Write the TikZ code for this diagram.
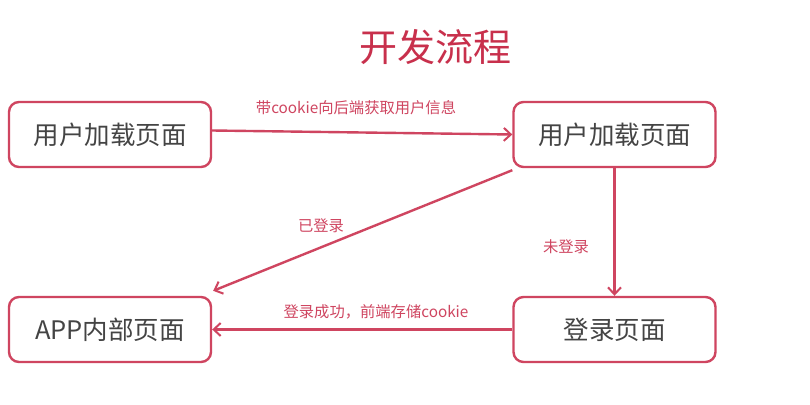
\documentclass[tikz,border=0pt]{standalone}
\usepackage{fontspec}
\setmainfont{Noto Sans CJK SC}
\usetikzlibrary{arrows.meta}
\definecolor{flowred}{HTML}{CF4560}
\definecolor{titlered}{HTML}{C8304C}
\definecolor{boxtext}{HTML}{444444}
\begin{document}
\begin{tikzpicture}[x=1pt,y=-1pt,
  stage/.style={draw=flowred, line width=2.4pt, rounded corners=10pt, fill=white,
    minimum width=202pt, minimum height=65pt, inner sep=0pt,
    text=boxtext, font=\fontsize{25.5}{30}\selectfont},
  flow/.style={draw=flowred, line width=2.4pt, -{Straight Barb[length=7pt,width=13pt,line width=2pt]}},
  note/.style={text=flowred, font=\fontsize{15.3}{18}\selectfont, inner sep=0pt}]
  \useasboundingbox (0,0) rectangle (810,404);
  \fill[white] (0,0) rectangle (810,404);

  \node[text=titlered, font=\fontsize{38}{44}\selectfont] (title) at (435,47) {开发流程};

  \node[stage] (load1) at (110,134.5) {用户加载页面};
  \node[stage] (load2) at (614.5,134.5) {用户加载页面};
  \node[stage] (app)   at (110,329.5) {APP内部页面};
  \node[stage] (login) at (614.5,329.5) {登录页面};

  \draw[flow] (load1.east) ++(0,-4) -- (load2.west);
  \draw[flow] ([yshift=-2pt]load2.south west) -- ([xshift=1pt,yshift=5pt]app.north east);
  \draw[flow] (load2.south) -- (login.north);
  \draw[flow] (login.west) -- (app.east);

  \node[note] (l1) at (356,108) {带cookie向后端获取用户信息};
  \node[note] (l2) at (321,226) {已登录};
  \node[note] (l3) at (566,247) {未登录};
  \node[note] (l4) at (376,312) {登录成功，前端存储cookie};
\end{tikzpicture}
\end{document}
